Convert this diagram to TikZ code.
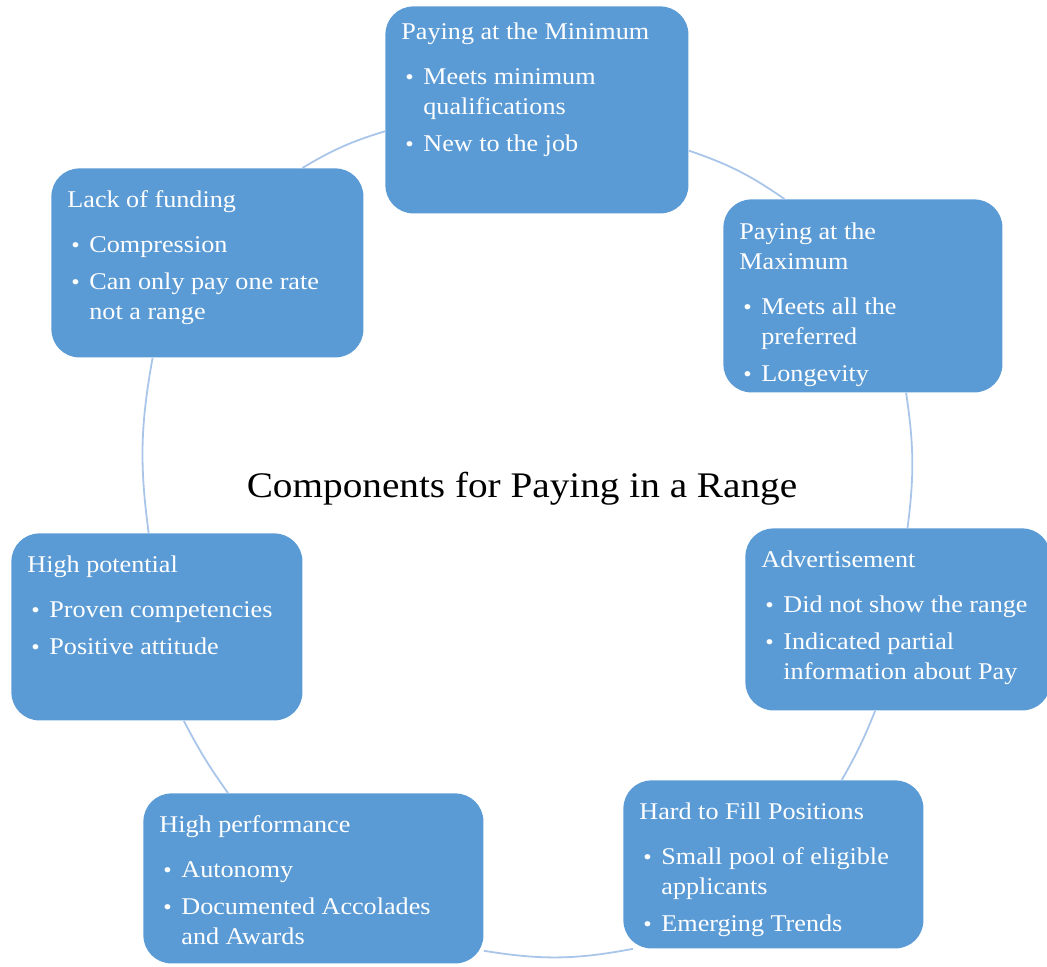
\documentclass[tikz,border=0pt]{standalone}
\usepackage{fontspec}
\setmainfont{Liberation Serif}[FakeStretch=1.09]
\usetikzlibrary{positioning}
\definecolor{Card}{HTML}{5B9BD5}
\definecolor{Ring}{HTML}{A9C6EA}

% card body: width, height, top pad, text
\newcommand{\cardtext}[4]{\parbox[c][#2][t]{#1}{\raggedright\vspace*{#3}\strut #4}}
\newcommand{\bul}[1]{\par\vspace{3.5pt}\hangindent=11pt\hangafter=1\noindent\makebox[11pt][l]{\hspace{2pt}{\fontsize{11}{13}\selectfont\textbullet}}#1}
\newcommand{\head}{\par\vspace{4pt}}

\begin{document}
\begin{tikzpicture}[x=0.5pt, y=-0.5pt,
    card/.style={fill=Card, text=white, rounded corners=14pt, anchor=north west,
      inner xsep=8pt, inner ysep=0pt, font=\fontsize{12}{15}\selectfont},
    ring/.style={draw=Ring, line width=0.9pt}]
  \useasboundingbox (0,0) rectangle (1047,966);

  \node[font=\fontsize{18}{22}\selectfont, anchor=base] (hub) at (522,497) {Components for Paying in a Range};

  \node[card] (min) at (385,6) {\cardtext{135.5pt}{103.5pt}{6pt}{Paying at the Minimum\head
    \bul{Meets minimum\newline qualifications}\bul{New to the job}}};
  \node[card] (max) at (723,199) {\cardtext{123.5pt}{96.5pt}{9.5pt}{Paying at the\newline Maximum\head
    \bul{Meets all the\newline preferred}\bul{Longevity}}};
  \node[card] (adv) at (745,528) {\cardtext{136.5pt}{91pt}{9pt}{Advertisement\head
    \bul{Did not show the range}\bul{Indicated partial\newline information about Pay}}};
  \node[card] (hard) at (623,780) {\cardtext{134pt}{84pt}{9pt}{Hard to Fill Positions\head
    \bul{Small pool of eligible\newline applicants}\bul{Emerging Trends}}};
  \node[card] (perf) at (143,793) {\cardtext{154pt}{85pt}{9pt}{High performance\head
    \bul{Autonomy}\bul{Documented Accolades\newline and Awards}}};
  \node[card] (pot) at (11,533) {\cardtext{129.5pt}{93.5pt}{9pt}{High potential\head
    \bul{Proven competencies}\bul{Positive attitude}}};
  \node[card] (fund) at (51,168) {\cardtext{140pt}{94.5pt}{9pt}{Lack of funding\head
    \bul{Compression}\bul{Can only pay one rate\newline not a range}}};

  % ring between the cards
  \draw[ring] (min.-15) to[bend left=8] (max.129);
  \draw[ring] (max.-66) to[bend left=8] (adv.84);
  \draw[ring] (adv.-104) to[bend left=4] (hard.51);
  \draw[ring] (hard.-149) to[bend left=10] (perf.-23);
  \draw[ring] (perf.135) to[bend left=4] (pot.-74);
  \draw[ring] (pot.95) to[bend left=9] (fund.-120);
  \draw[ring] (fund.45) to[bend left=7] (min.-172);
\end{tikzpicture}
\end{document}
